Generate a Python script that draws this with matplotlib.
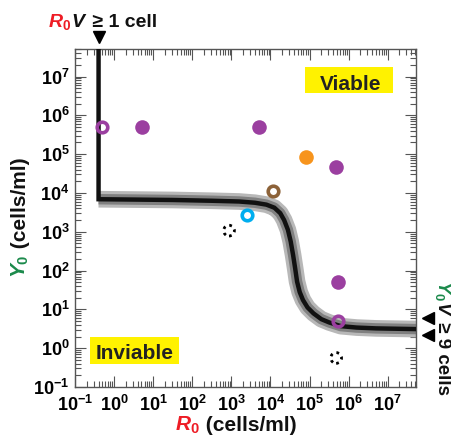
import numpy as np
import matplotlib
matplotlib.use('Agg')
import matplotlib.pyplot as plt
from matplotlib.ticker import FuncFormatter, LogLocator
from matplotlib.patches import Rectangle
from matplotlib.transforms import IdentityTransform

# boundary curve (R0, Y0)
curve_R = [0.4, 3.2, 32, 316, 1580, 4000, 7900, 1.26e4, 1.78e4, 2.24e4, 2.8e4,
           3.3e4, 3.8e4, 4.3e4, 4.8e4, 5.6e4, 6.8e4, 8.9e4, 1.26e5, 2.0e5,
           3.2e5, 6.3e5, 1.6e6, 5e6, 6e7]
curve_Y = [6900, 6760, 6600, 6300, 6030, 5600, 5000, 4170, 3020, 2000, 1120,
           560, 250, 112, 52, 28, 17.4, 11.2, 7.9, 5.6,
           4.6, 3.7, 3.4, 3.24, 3.1]
vline_R = 0.4          # R0 V >= 1 cell
yv_marks = [6.0, 2.2]  # Y0 V >= 9 cells markers

# experiments
purple_full_R = [5.1, 5000, 4.8e5, 5.2e5]
purple_full_Y = [4.9e5, 5.0e5, 4.8e4, 51]
purple_open_R = [0.5, 5.2e5]
purple_open_Y = [4.9e5, 5.0]
orange_R = [8.1e4]
orange_Y = [8.7e4]
brown_R = [1.15e4]
brown_Y = [1.15e4]
cyan_R = [2450]
cyan_Y = [2700]
dotted_R = [870, 4.8e5]
dotted_Y = [1070, 0.56]

red = '#ee1c25'
green = '#1b8a4b'
purple = '#9b3fa0'

plt.rcParams['font.family'] = ['Liberation Sans', 'DejaVu Sans']
plt.rcParams['font.weight'] = 'bold'
plt.rcParams['mathtext.fontset'] = 'custom'
plt.rcParams['mathtext.rm'] = 'Liberation Sans:bold'
plt.rcParams['mathtext.bf'] = 'Liberation Sans:bold'
plt.rcParams['mathtext.it'] = 'Liberation Sans:italic:bold'
plt.rcParams['mathtext.default'] = 'rm'

fig = plt.figure(figsize=(4.52, 4.36), dpi=100)
ax = fig.add_axes([0.166, 0.1124, 0.754, 0.7752])
ax.set_xscale('log')
ax.set_yscale('log')
ax.set_xlim(0.1, 10**7.72)
ax.set_ylim(0.1, 10**7.71)

# gray confidence band + black curve
ax.plot(curve_R, curve_Y, color='#b8b8b8', lw=12, solid_capstyle='butt', zorder=2)
ax.plot(curve_R, curve_Y, color='#808080', lw=7.5, solid_capstyle='butt', zorder=2)
ax.plot([vline_R] + curve_R, [1e9] + curve_Y, color='#111111', lw=3.2,
        solid_joinstyle='miter', zorder=3)

ms = 10.5
ax.plot(purple_full_R, purple_full_Y, 'o', color=purple, ms=ms, mec='none', zorder=5)
ax.plot(orange_R, orange_Y, 'o', color='#f7941d', ms=ms, mec='none', zorder=5)
ax.plot(purple_open_R, purple_open_Y, 'o', mfc='none', mec=purple, ms=7.6, mew=2.6, zorder=5)
ax.plot(brown_R, brown_Y, 'o', mfc='none', mec='#8c6239', ms=7.6, mew=2.6, zorder=5)
ax.plot(cyan_R, cyan_Y, 'o', mfc='none', mec='#00aeef', ms=7.6, mew=2.6, zorder=5)
ax.scatter(dotted_R, dotted_Y, s=60, facecolors='none', edgecolors='k',
           linewidths=2.0, linestyles=(0, (1, 1.5)), zorder=5)

# marker arrows outside the frame
ax.plot([vline_R], [1.035], 'v', color='k', ms=8, clip_on=False,
        transform=ax.get_xaxis_transform())
ax.plot([1.035] * len(yv_marks), yv_marks, '<', color='k', ms=8, clip_on=False,
        transform=ax.get_yaxis_transform())

# yellow region labels
ax.add_patch(Rectangle((0.674, 0.870), 0.259, 0.077, transform=ax.transAxes,
                       facecolor='#fff200', edgecolor='none', zorder=1))
ax.text(0.808, 0.879, 'Viable', transform=ax.transAxes, ha='center',
        va='baseline', fontsize=15, color='#222222', zorder=2)
ax.add_patch(Rectangle((0.044, 0.068), 0.261, 0.080, transform=ax.transAxes,
                       facecolor='#fff200', edgecolor='none', zorder=1))
ax.text(0.176, 0.083, 'Inviable', transform=ax.transAxes, ha='center',
        va='baseline', fontsize=15, color='#222222', zorder=2)

# ticks
fmt = FuncFormatter(lambda v, p: r'$10^{%d}$' % int(round(np.log10(v))))
for axis in (ax.xaxis, ax.yaxis):
    axis.set_major_locator(LogLocator(base=10, numticks=20))
    axis.set_minor_locator(LogLocator(base=10, subs=np.arange(2, 10), numticks=20))
    axis.set_major_formatter(fmt)
ax.tick_params(which='both', direction='in', top=True, right=True,
               color='#555555', width=0.8)
ax.tick_params(which='major', length=8, labelsize=13, pad=4)
ax.tick_params(axis='x', which='major', pad=5.5)
ax.tick_params(which='minor', length=4)
for sp in ax.spines.values():
    sp.set_color('#555555')
    sp.set_linewidth(1.0)


def part_text(x, y, parts, rot=0, size=15):
    # draw text pieces of different colours one after another (pixel coords)
    r = fig.canvas.get_renderer()
    for s, c in parts:
        t = fig.text(x, y, s, color=c, fontsize=size, rotation=rot,
                     rotation_mode='anchor', ha='left', va='baseline',
                     transform=IdentityTransform())
        bb = t.get_window_extent(r)
        if rot == 0:
            x = bb.x1
        elif rot == 90:
            y = bb.y1
        else:
            y = bb.y0


H = 436
part_text(48, H - 27, [(r'$\mathit{R_0}$', red), (r'$\mathit{V}$', '#111111'),
                       (' ≥ 1 cell', '#111111')], size=14)
part_text(175, H - 431, [(r'$\mathit{R_0}$', red), (' (cells/ml)', '#111111')], size=15)
part_text(26, H - 278, [(r'$\mathit{Y_0}$', green), (' (cells/ml)', '#111111')],
          rot=90, size=15)
part_text(438, H - 280, [(r'$\mathit{Y_0}$', green), (r'$\mathit{V}$', '#111111'),
                         (' ≥ 9 cells', '#111111')], rot=-90, size=13.5)

fig.savefig('out.png', dpi=100)
